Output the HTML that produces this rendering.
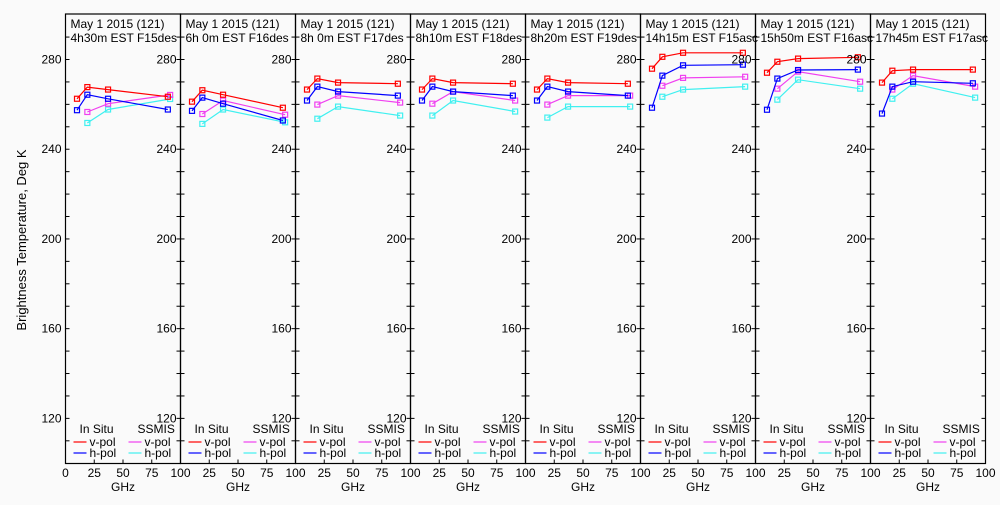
<!DOCTYPE html>
<html><head><meta charset="utf-8">
<style>
body{margin:0;background:#fafafa;}
svg text{font-family:"Liberation Sans",sans-serif;font-size:12px;fill:#000;}
</style></head>
<body>
<svg id="chart" width="1000" height="500" viewBox="0 0 1000 500" xmlns="http://www.w3.org/2000/svg">
<rect x="0" y="0" width="1000" height="500" fill="#fafafa"/>
<text x="26" y="240" transform="rotate(-90 26 240)" text-anchor="middle" style="font-size:13px">Brightness Temperature, Deg K</text>
<g id="panels"></g>
</svg>
<script>
const titles1 = ["May 1 2015 (121)","May 1 2015 (121)","May 1 2015 (121)","May 1 2015 (121)","May 1 2015 (121)","May 1 2015 (121)","May 1 2015 (121)","May 1 2015 (121)"];
const titles2 = ["4h30m EST F15des","6h 0m EST F16des","8h 0m EST F17des","8h10m EST F18des","8h20m EST F19des","14h15m EST F15asc","15h50m EST F16asc","17h45m EST F17asc"];
const inSituFreq = [10, 19, 37, 89];
const ssmisFreq = [19, 37, 91];
const inSituV = [
 [262.5,267.7,266.6,263.4],[261.2,266.3,264.3,258.5],[266.6,271.5,269.7,269.2],[266.6,271.5,269.7,269.2],
 [266.6,271.5,269.7,269.2],[275.9,281.2,283,283],[274.1,279,280.4,281],[269.7,275,275.5,275.5]];
const inSituH = [
 [257.4,264.3,262.5,257.7],[257.1,263,260.3,252.8],[261.7,267.9,265.7,263.9],[261.7,267.9,265.7,263.9],
 [261.7,267.9,265.7,263.9],[258.5,272.8,277.4,277.7],[257.6,271.5,275.3,275.5],[255.9,267.9,270.1,269.4]];
const ssmisV = [
 [256.6,260.3,264.2],[255.7,261.7,255.4],[259.9,263.9,260.8],[260.3,265.7,261.7],
 [259.9,263.9,263.9],[268.3,271.8,272.3],[267,274.6,270.1],[266.6,272.8,267.9]];
const ssmisH = [
 [251.7,257.7,262.4],[251.3,257.7,252],[253.6,259,255],[255,261.7,256.8],
 [254.1,259,259],[263.4,266.6,267.9],[262.1,271,267],[262.5,269.2,263]];
const yLabels = [120,160,200,240,280];
const xLabels = [0,25,50,75,100];

const NS="http://www.w3.org/2000/svg";
const root=document.getElementById('panels');
const P0=65.5, PW=115, TOP=14, BOT=463.5;
function yS(v){return 59.5+(280-v)*2.243;}
function xS(p,f){return P0+p*PW+f*PW/100;}
function mk(tag,attrs,parent){const e=document.createElementNS(NS,tag);for(const k in attrs)e.setAttribute(k,attrs[k]);(parent||root).appendChild(e);return e;}
function txt(x,y,s,anchor,parent){const t=mk('text',{x:x,y:y,'text-anchor':anchor||'start'},parent);t.textContent=s;return t;}

for(let p=0;p<8;p++){
  const g=mk('g',{});
  
  
  const L=P0+p*PW, R=L+PW;
  const fr=mk('rect',{x:L,y:TOP,width:PW,height:BOT-TOP,fill:'none',stroke:'#000','stroke-width':1.2},g);
  
  
  for(let v=110;v<=290;v+=10){
    const y=yS(v);
    mk('line',{x1:L,x2:L+4,y1:y,y2:y,stroke:'#000'},g);
    mk('line',{x1:R-4,x2:R,y1:y,y2:y,stroke:'#000'},g);
  }
  yLabels.forEach(v=>{
    const t=txt(L-4,yS(v)+4,String(v),'end',g);
    
    
  });
  xLabels.forEach((v,i)=>{
    if(p>0&&i==0)return;
    const t=txt(xS(p,v),477,String(v),'middle',g);
    
    
    mk('line',{x1:xS(p,v),x2:xS(p,v),y1:BOT,y2:BOT-4,stroke:'#000'},g);
  });
  const xt=txt(L+PW/2,491,'GHz','middle',g);
  
  
  const t1=txt(L+5,28,titles1[p],'start',g);
  
  
  const t2=txt(L+5,42,titles2[p],'start',g);
  
  

  const series=[[ssmisH[p],ssmisFreq,'#40f0f0','ssmis-h-pol'],[ssmisV[p],ssmisFreq,'#f040f0','ssmis-v-pol'],
                [inSituH[p],inSituFreq,'#0000ff','insitu-h-pol'],[inSituV[p],inSituFreq,'#ff0000','insitu-v-pol']];
  series.forEach(s=>{
    const pts=s[0].map((v,i)=>xS(p,s[1][i]).toFixed(1)+','+yS(v).toFixed(1)).join(' ');
    const pl=mk('polyline',{points:pts,fill:'none',stroke:s[2],'stroke-width':1.2},g);
    
    
    s[0].forEach((v,i)=>{
      const r=mk('rect',{x:xS(p,s[1][i])-2.5,y:yS(v)-2.5,width:5,height:5,fill:'none',stroke:s[2],'stroke-width':1.2},g);
      
      
    });
  });
  // legend
  const lg=mk('g',{},g);
  
  
  txt(L+14,433,'In Situ','start',lg);
  txt(L+72,433,'SSMIS','start',lg);
  [['#ff0000','v-pol',446,L+8],['#0000ff','h-pol',457,L+8],['#f040f0','v-pol',446,L+63],['#40f0f0','h-pol',457,L+63]].forEach(e=>{
    const ln=mk('line',{x1:e[3],x2:e[3]+13,y1:e[2]-4,y2:e[2]-4,stroke:e[0],'stroke-width':1.2},lg);
    
    
    const lt=txt(e[3]+16,e[2],e[1],'start',lg);
    
    
  });
}
</script>
</body></html>
